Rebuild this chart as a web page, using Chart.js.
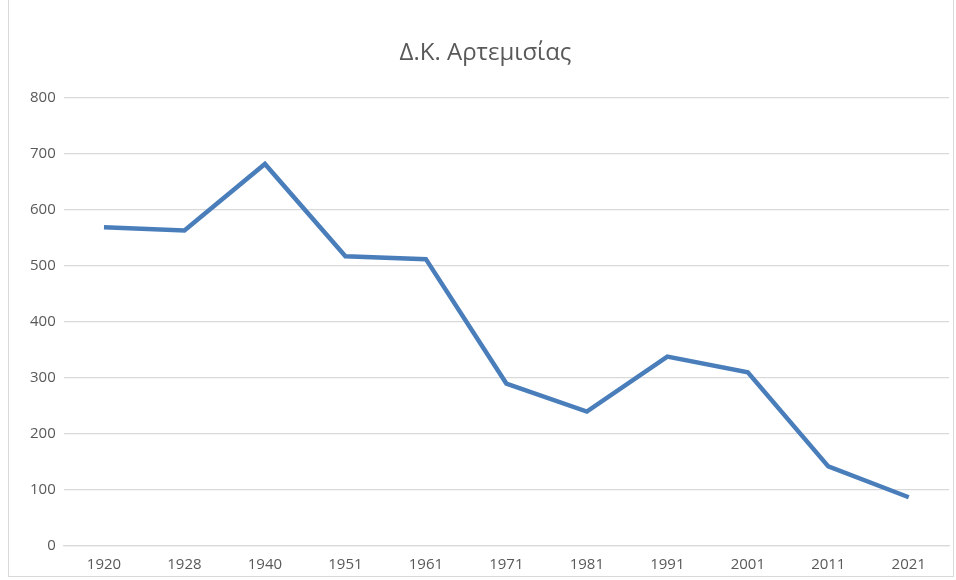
<!DOCTYPE html>
<html>
<head>
<meta charset="utf-8">
<script src="https://cdn.jsdelivr.net/npm/chart.js@4/dist/chart.umd.min.js"></script>
<style>
  html, body { margin: 0; padding: 0; background: #fff; }
  #wrap {
    position: absolute; left: 8px; top: -2px; width: 946px; height: 579px;
    border: 1px solid #d9d9d9; box-sizing: border-box;
  }
  #wrap canvas { position: absolute; left: 0; top: 0; }
</style>
</head>
<body>
<div id="wrap"><canvas id="chart"></canvas></div>
<script>
const years = ["1920", "1928", "1940", "1951", "1961", "1971", "1981", "1991", "2001", "2011", "2021"];
const population = [569, 563, 682, 517, 512, 290, 240, 338, 310, 142, 87];
const titleText = "Δ.Κ. Αρτεμισίας";

document.addEventListener("DOMContentLoaded", function () {
  const ctx = document.getElementById("chart").getContext("2d");
  const font = "'Open Sans', 'Noto Sans', sans-serif";

  new Chart(ctx, {
    type: "line",
    data: {
      labels: years,
      datasets: [
        {
          label: "Πληθυσμός",
          data: population,
          borderColor: "#4a7ebb",
          borderWidth: 4.5,
          pointRadius: 0,
          tension: 0,
          fill: false,
        },
      ],
    },
    options: {
      responsive: true,
      maintainAspectRatio: false,
      animation: false,
      layout: { padding: { left: 13, right: 4, top: 10, bottom: 0 } },
      plugins: {
        legend: { display: false },
        tooltip: { enabled: false },
        title: {
          display: true,
          text: titleText,
          color: "#595959",
          font: { family: font, size: 24, weight: "normal" },
          padding: { top: 30, bottom: 30 },
        },
      },
      scales: {
        x: {
          offset: true,
          grid: { display: false },
          border: { display: true, color: "#d9d9d9", width: 1.3 },
          ticks: {
            color: "#595959",
            font: { family: font, size: 15 },
            padding: 2,
            maxRotation: 0,
          },
        },
        y: {
          min: 0,
          max: 800,
          ticks: {
            stepSize: 100,
            color: "#595959",
            font: { family: font, size: 15 },
            padding: 8,
          },
          grid: { color: "#d9d9d9", lineWidth: 1.3, drawTicks: false },
          border: { display: false },
        },
      },
    },
  });
});
</script>
</body>
</html>
